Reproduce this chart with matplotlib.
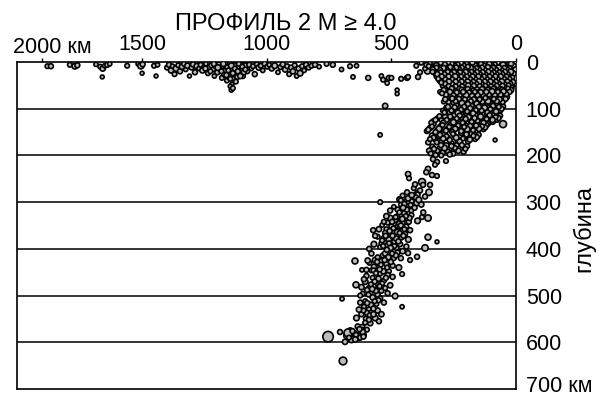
import numpy as np
import matplotlib.pyplot as plt
from matplotlib.transforms import ScaledTranslation

plt.rcParams['font.family'] = ['Liberation Sans', 'DejaVu Sans']

# (distance along profile km, depth km, magnitude)
band = [
    (1880, 9, 4.3), (1866, 9, 4.4), (1790, 6, 4.3), (1770, 9, 4.6), (1760, 7, 4.4),
    (1685, 5, 4.2), (1668, 10, 4.3), (1658, 14, 4.5), (1650, 8, 4.2), (1660, 32, 4.1),
    (1640, 6, 4.4), (1630, 4, 4.2), (1560, 8, 4.3), (1516, 4, 4.2), (1505, 8, 4.8),
    (1498, 5, 4.4), (1500, 24, 4.1), (1452, 8, 4.3), (1438, 6, 4.2), (1444, 30, 4.1),
    (1400, 12, 4.3), (1392, 6, 4.4), (1384, 18, 4.5), (1378, 9, 4.2), (1370, 26, 4.3),
    (1364, 14, 4.6), (1355, 7, 4.3), (1348, 20, 4.4), (1340, 10, 4.5), (1332, 4, 4.3),
    (1325, 16, 4.2), (1318, 8, 4.5), (1310, 30, 4.1), (1302, 12, 4.3), (1296, 5, 4.4),
    (1288, 22, 4.4), (1280, 9, 4.6), (1272, 14, 4.2), (1265, 6, 4.3), (1258, 18, 4.5),
    (1250, 10, 4.3), (1244, 4, 4.2), (1236, 24, 4.3), (1230, 12, 4.6), (1222, 7, 4.4),
    (1215, 16, 4.3), (1210, 30, 4.2), (1204, 9, 4.5), (1198, 22, 4.4), (1192, 5, 4.3),
    (1186, 14, 4.7), (1180, 34, 4.3), (1176, 8, 4.4), (1170, 26, 4.5), (1165, 18, 4.3),
    (1160, 40, 4.2), (1158, 11, 4.4), (1152, 30, 4.6), (1148, 4, 4.3), (1144, 22, 4.4),
    (1140, 48, 4.2), (1138, 14, 4.5), (1134, 36, 4.3), (1130, 7, 4.4), (1126, 26, 4.3),
    (1122, 17, 4.6), (1118, 32, 4.4), (1114, 10, 4.3), (1110, 24, 4.2), (1105, 5, 4.5),
    (1100, 18, 4.3), (1096, 30, 4.4), (1090, 12, 4.3), (1084, 8, 4.6), (1078, 20, 4.3),
    (1070, 6, 4.4), (1062, 14, 4.2), (1055, 9, 4.3), (1048, 26, 4.4), (1040, 5, 4.3),
    (1032, 12, 4.5), (1024, 8, 4.3), (1016, 18, 4.2), (1008, 4, 4.4), (998, 10, 4.3),
    (990, 6, 4.2), (980, 14, 4.4), (968, 8, 4.6), (955, 22, 4.2), (945, 11, 4.3),
    (936, 5, 4.4), (926, 16, 4.5), (918, 9, 4.3), (910, 26, 4.3), (902, 12, 4.4),
    (895, 20, 4.5), (888, 7, 4.3), (880, 30, 4.2), (872, 14, 4.4), (866, 24, 4.6),
    (858, 9, 4.3), (850, 18, 4.2), (842, 6, 4.4), (832, 12, 4.3), (820, 8, 4.3),
    (806, 6, 4.4), (790, 10, 4.2), (760, 4, 4.3), (735, 6, 4.4), (700, 16, 4.2),
    (666, 9, 4.3), (654, 32, 4.2), (640, 8, 4.2), (593, 34, 4.4), (540, 30, 4.2),
    (533, 38, 4.3), (525, 94, 4.5), (517, 45, 4.2), (545, 156, 4.2), (510, 34, 4.4),
    (500, 34, 4.3), (477, 60, 4.1), (477, 68, 4.1), (461, 36, 4.3), (437, 34, 4.4),
    (433, 32, 4.3), (393, 32, 4.4), (385, 22, 4.3), (355, 19, 4.8),
    (1246, 14, 4.4), (1226, 20, 4.3), (1212, 4, 4.4), (1196, 12, 4.6), (1182, 20, 4.3),
    (1174, 4, 4.5), (1162, 28, 4.4), (1154, 18, 4.3), (1146, 36, 4.3), (1142, 8, 4.6),
    (1136, 24, 4.4), (1128, 14, 4.3), (1124, 42, 4.3), (1116, 20, 4.4), (1112, 4, 4.3),
    (1106, 30, 4.5), (1098, 10, 4.3), (1092, 22, 4.4), (1086, 16, 4.3), (1146, 52, 4.2),
    (1142, 60, 4.2), (1136, 56, 4.3),
]

wedge_top = [
    (4, 3, 4.6), (14, 6, 4.3), (26, 2, 4.4), (35, 7, 4.8), (47, 4, 4.3), (58, 2, 4.5),
    (67, 6, 4.4), (79, 3, 4.3), (90, 8, 4.6), (101, 2, 4.3), (113, 5, 4.4), (124, 3, 4.2),
    (136, 7, 4.5), (147, 2, 4.3), (158, 5, 4.4), (170, 3, 4.6), (181, 8, 4.3), (193, 2, 4.4),
    (204, 6, 4.3), (216, 3, 4.5), (228, 7, 4.2), (240, 4, 4.4), (252, 2, 4.3), (266, 6, 4.5),
    (279, 3, 4.3), (294, 8, 4.4), (310, 5, 4.2), (330, 4, 4.3),
    (8, 12, 4.4), (19, 10, 4.7), (31, 15, 4.3), (42, 11, 4.5), (53, 14, 4.4), (64, 9, 4.3),
    (75, 13, 4.6), (86, 16, 4.3), (97, 10, 4.4), (108, 14, 4.5), (119, 12, 4.3), (131, 9, 4.4),
    (142, 15, 4.3), (153, 11, 4.6), (165, 14, 4.4), (176, 10, 4.3), (188, 16, 4.5), (199, 12, 4.3),
    (211, 9, 4.4), (222, 15, 4.3), (234, 11, 4.6), (246, 14, 4.4), (258, 10, 4.3), (271, 13, 4.5),
    (284, 16, 4.3), (298, 11, 4.4), (313, 14, 4.3), (326, 10, 4.5), (341, 12, 4.3), (365, 14, 4.2),
    (3, 20, 4.5), (15, 23, 4.3), (27, 18, 4.4), (38, 24, 4.6), (50, 21, 4.3), (61, 19, 4.4),
    (72, 25, 4.3), (83, 20, 4.5), (94, 23, 4.4), (105, 18, 4.3), (117, 24, 4.6), (128, 21, 4.4),
    (139, 19, 4.3), (151, 25, 4.5), (162, 20, 4.3), (173, 23, 4.4), (185, 18, 4.3), (196, 24, 4.6),
    (208, 21, 4.4), (219, 19, 4.3), (231, 25, 4.4), (243, 20, 4.5), (255, 23, 4.3), (268, 18, 4.4),
    (281, 24, 4.3), (295, 21, 4.5), (309, 19, 4.3), (323, 25, 4.4),
    (9, 30, 4.4), (21, 27, 4.3), (32, 33, 4.6), (44, 29, 4.4), (55, 35, 4.3), (66, 28, 4.5),
    (77, 32, 4.4), (89, 27, 4.3), (100, 34, 4.4), (111, 30, 4.6), (122, 26, 4.3), (134, 33, 4.4),
    (145, 29, 4.5), (156, 35, 4.3), (168, 28, 4.4), (179, 32, 4.3), (191, 27, 4.5), (202, 34, 4.4),
    (214, 30, 4.3), (226, 26, 4.4), (238, 33, 4.6), (250, 29, 4.3), (263, 35, 4.4), (276, 28, 4.3),
    (290, 32, 4.5), (304, 27, 4.3), (318, 31, 4.4),
    (6, 40, 4.3), (18, 37, 4.5), (29, 43, 4.4), (40, 39, 4.3), (52, 45, 4.4), (63, 38, 4.6),
    (74, 42, 4.3), (86, 37, 4.4), (97, 44, 4.5), (108, 40, 4.3), (120, 36, 4.4), (131, 43, 4.3),
    (142, 39, 4.6), (154, 45, 4.4), (165, 38, 4.3), (177, 42, 4.4), (188, 37, 4.5), (200, 44, 4.3),
    (212, 40, 4.4), (224, 36, 4.3), (236, 43, 4.5), (249, 39, 4.4), (262, 45, 4.3), (276, 38, 4.4),
    (291, 42, 4.3), (306, 40, 4.4),
    (12, 48, 4.4), (24, 52, 4.3), (36, 47, 4.5), (48, 54, 4.4), (59, 49, 4.3), (71, 55, 4.6),
    (82, 47, 4.4), (94, 53, 4.3), (105, 50, 4.4), (117, 46, 4.5), (128, 54, 4.3), (140, 49, 4.4),
    (151, 55, 4.3), (163, 47, 4.6), (174, 52, 4.4), (186, 48, 4.3), (198, 54, 4.4), (210, 50, 4.5),
    (222, 46, 4.3), (235, 53, 4.4), (248, 49, 4.3), (262, 55, 4.4), (277, 47, 4.3), (293, 51, 4.4),
]

wedge_top_fill = [
    (9, 8, 4.4), (20, 4, 4.5), (41, 9, 4.3), (52, 6, 4.6), (73, 1, 4.4), (85, 5, 4.3),
    (96, 9, 4.5), (107, 4, 4.4), (130, 8, 4.6), (141, 4, 4.3), (164, 7, 4.4), (175, 1, 4.5),
    (198, 4, 4.3), (210, 8, 4.4), (222, 1, 4.6), (234, 5, 4.3), (246, 8, 4.4), (259, 4, 4.5),
    (272, 1, 4.3), (286, 5, 4.4), (302, 2, 4.3), (320, 7, 4.4), (345, 3, 4.2), (360, 6, 4.3),
    (380, 2, 4.2), (400, 8, 4.3),
    (2, 16, 4.4), (25, 13, 4.3), (36, 17, 4.6), (47, 13, 4.4), (58, 17, 4.3), (69, 12, 4.5),
    (80, 17, 4.4), (91, 12, 4.3), (102, 17, 4.6), (113, 11, 4.4), (125, 17, 4.3), (136, 12, 4.4),
    (148, 17, 4.5), (159, 13, 4.3), (170, 17, 4.4), (182, 13, 4.6), (193, 10, 4.3), (205, 17, 4.4),
    (217, 12, 4.3), (228, 17, 4.5), (240, 12, 4.4), (252, 17, 4.3), (264, 11, 4.4), (277, 17, 4.3),
    (291, 13, 4.5), (305, 17, 4.4), (319, 12, 4.3), (334, 16, 4.4), (350, 9, 4.3),
    (9, 25, 4.4), (21, 21, 4.6), (33, 26, 4.3), (44, 21, 4.4), (56, 26, 4.5), (67, 22, 4.3),
    (78, 26, 4.4), (89, 22, 4.3), (100, 26, 4.6), (111, 21, 4.4), (123, 26, 4.3), (134, 22, 4.4),
    (145, 26, 4.3), (157, 22, 4.5), (168, 26, 4.4), (179, 21, 4.3), (190, 26, 4.4), (202, 22, 4.6),
    (213, 26, 4.3), (225, 22, 4.4), (237, 26, 4.3), (249, 22, 4.5), (261, 26, 4.4), (274, 21, 4.3),
    (288, 26, 4.4), (302, 22, 4.3), (316, 26, 4.4), (335, 21, 4.3),
    (3, 35, 4.5), (15, 33, 4.3), (27, 36, 4.4), (38, 31, 4.3), (49, 37, 4.6), (61, 31, 4.4),
    (72, 37, 4.3), (83, 31, 4.4), (95, 37, 4.5), (106, 31, 4.3), (117, 37, 4.4), (128, 31, 4.3),
    (140, 37, 4.6), (151, 31, 4.4), (162, 37, 4.3), (174, 31, 4.4), (185, 37, 4.5), (197, 31, 4.3),
    (208, 37, 4.4), (220, 31, 4.3), (232, 37, 4.4), (244, 31, 4.6), (256, 37, 4.3), (270, 31, 4.4),
    (284, 37, 4.3), (298, 31, 4.4), (312, 36, 4.3),
    (1, 46, 4.4), (12, 43, 4.5), (23, 46, 4.3), (35, 42, 4.4), (46, 47, 4.3), (57, 42, 4.6),
    (68, 47, 4.4), (80, 42, 4.3), (91, 47, 4.4), (103, 42, 4.5), (114, 47, 4.3), (125, 42, 4.4),
    (137, 47, 4.3), (148, 42, 4.6), (159, 47, 4.4), (171, 42, 4.3), (182, 47, 4.4), (194, 42, 4.5),
    (206, 47, 4.3), (218, 42, 4.4), (230, 47, 4.3), (242, 42, 4.4), (256, 47, 4.3), (269, 42, 4.5),
    (284, 47, 4.4), (300, 44, 4.3),
    (18, 55, 4.4), (30, 50, 4.3), (42, 56, 4.5), (54, 51, 4.4), (65, 57, 4.3), (77, 51, 4.4),
    (88, 57, 4.6), (100, 52, 4.3), (111, 57, 4.4), (123, 51, 4.3), (134, 57, 4.5), (146, 52, 4.4),
    (157, 58, 4.3), (169, 51, 4.4), (180, 57, 4.3), (192, 51, 4.6), (204, 57, 4.4), (216, 52, 4.3),
    (229, 57, 4.4), (242, 52, 4.3), (255, 58, 4.5), (270, 52, 4.4), (285, 57, 4.3),
]

wedge_mid = [
    (20, 60, 4.5), (32, 57, 4.3), (44, 65, 4.4), (56, 59, 4.3), (67, 68, 4.6), (79, 62, 4.4),
    (90, 57, 4.3), (102, 66, 4.4), (113, 60, 4.5), (125, 69, 4.3), (136, 58, 4.4), (148, 64, 4.3),
    (159, 70, 4.6), (171, 61, 4.4), (182, 67, 4.3), (194, 58, 4.4), (206, 65, 4.3), (218, 60, 4.5),
    (231, 68, 4.4), (244, 62, 4.3), (258, 57, 4.4), (273, 66, 4.3), (290, 60, 4.4), (305, 64, 4.2),
    (36, 75, 4.4), (48, 82, 4.3), (60, 74, 4.5), (71, 88, 4.4), (83, 78, 4.3), (95, 85, 4.4),
    (106, 72, 4.6), (118, 80, 4.3), (129, 89, 4.4), (141, 76, 4.3), (152, 84, 4.5), (164, 73, 4.4),
    (175, 87, 4.3), (187, 79, 4.4), (199, 86, 4.3), (211, 74, 4.6), (223, 82, 4.4), (236, 77, 4.3),
    (249, 88, 4.4), (263, 80, 4.3), (278, 75, 4.4), (290, 85, 4.2),
    (52, 95, 4.4), (63, 104, 4.3), (75, 92, 4.5), (86, 100, 4.4), (98, 108, 4.3), (109, 96, 4.4),
    (121, 103, 4.6), (132, 93, 4.3), (144, 110, 4.4), (155, 99, 4.3), (167, 106, 4.5), (178, 94, 4.4),
    (190, 102, 4.3), (202, 109, 4.4), (214, 97, 4.3), (226, 105, 4.6), (239, 93, 4.4), (252, 101, 4.3),
    (266, 108, 4.4), (280, 98, 4.3), (294, 104, 4.2),
    (64, 115, 4.4), (76, 124, 4.3), (88, 113, 4.5), (100, 128, 4.4), (112, 118, 4.3), (124, 126, 4.4),
    (136, 112, 4.6), (148, 121, 4.3), (160, 129, 4.4), (172, 116, 4.3), (184, 124, 4.5), (196, 113, 4.4),
    (208, 127, 4.3), (220, 119, 4.4), (232, 125, 4.3), (245, 114, 4.6), (258, 122, 4.4), (271, 129, 4.3),
    (285, 117, 4.4), (300, 124, 4.3), (315, 120, 4.2), (332, 127, 4.4),
    (52, 133, 5.0), (93, 128, 4.4), (112, 132, 4.3), (84, 167, 4.1), (125, 128, 4.4),
    (118, 135, 4.4), (130, 144, 4.3), (142, 137, 4.5), (154, 148, 4.4), (166, 133, 4.3), (178, 141, 4.4),
    (190, 150, 4.6), (202, 136, 4.3), (214, 145, 4.4), (226, 132, 4.3), (238, 139, 4.5), (250, 147, 4.4),
    (262, 134, 4.3), (275, 143, 4.4), (288, 150, 4.3), (302, 138, 4.6), (316, 146, 4.4), (330, 133, 4.3),
    (345, 141, 4.4), (358, 148, 4.3),
    (150, 156, 4.4), (164, 165, 4.3), (178, 154, 4.5), (192, 170, 4.4), (206, 160, 4.3), (220, 152, 4.4),
    (233, 168, 4.6), (246, 158, 4.3), (259, 174, 4.4), (272, 163, 4.3), (285, 155, 4.5), (298, 171, 4.4),
    (311, 160, 4.3), (324, 166, 4.4), (338, 157, 4.3), (352, 172, 4.4),
    (196, 180, 4.3), (210, 192, 4.4), (224, 184, 4.5), (238, 178, 4.3), (252, 196, 4.4), (266, 186, 4.3),
    (280, 179, 4.6), (294, 194, 4.4), (308, 185, 4.3), (322, 199, 4.4), (336, 181, 4.3), (348, 190, 4.5),
]

wedge_mid_fill = [
    (26, 64, 4.4), (38, 69, 4.3), (50, 63, 4.5), (62, 70, 4.4), (73, 64, 4.3), (85, 71, 4.4),
    (96, 63, 4.6), (108, 70, 4.3), (119, 64, 4.4), (131, 72, 4.3), (142, 65, 4.5), (154, 71, 4.4),
    (165, 64, 4.3), (177, 72, 4.4), (188, 65, 4.3), (200, 71, 4.6), (212, 64, 4.4), (225, 72, 4.3),
    (238, 65, 4.4), (251, 71, 4.3), (265, 64, 4.5), (281, 70, 4.4), (297, 67, 4.3),
    (42, 79, 4.4), (54, 86, 4.3), (66, 80, 4.5), (77, 84, 4.4), (89, 79, 4.3), (100, 90, 4.4),
    (112, 84, 4.6), (123, 77, 4.3), (135, 85, 4.4), (146, 80, 4.3), (158, 89, 4.5), (169, 80, 4.4),
    (181, 84, 4.3), (193, 90, 4.4), (205, 80, 4.3), (217, 88, 4.6), (229, 79, 4.4), (242, 84, 4.3),
    (256, 78, 4.4), (270, 86, 4.3), (284, 80, 4.4),
    (58, 100, 4.4), (69, 96, 4.3), (80, 106, 4.5), (92, 94, 4.4), (103, 101, 4.3), (115, 108, 4.4),
    (126, 98, 4.6), (138, 104, 4.3), (149, 96, 4.4), (161, 103, 4.3), (172, 110, 4.5), (184, 99, 4.4),
    (196, 106, 4.3), (208, 96, 4.4), (220, 102, 4.3), (233, 109, 4.6), (246, 97, 4.4), (259, 104, 4.3),
    (273, 96, 4.4), (287, 108, 4.3),
    (70, 120, 4.4), (82, 118, 4.3), (94, 124, 4.5), (106, 114, 4.4), (118, 122, 4.3), (130, 130, 4.4),
    (142, 117, 4.6), (154, 126, 4.3), (166, 120, 4.4), (178, 128, 4.3), (190, 118, 4.5), (202, 122, 4.4),
    (214, 130, 4.3), (226, 115, 4.4), (238, 121, 4.3), (251, 129, 4.6), (264, 117, 4.4), (278, 124, 4.3),
    (292, 130, 4.4), (307, 116, 4.3), (323, 124, 4.4), (340, 130, 4.3),
    (124, 140, 4.4), (136, 138, 4.3), (148, 143, 4.5), (160, 136, 4.4), (172, 146, 4.3), (184, 137, 4.4),
    (196, 144, 4.6), (208, 139, 4.3), (220, 148, 4.4), (232, 136, 4.3), (244, 143, 4.5), (256, 150, 4.4),
    (268, 139, 4.3), (281, 147, 4.4), (295, 135, 4.3), (309, 143, 4.6), (323, 150, 4.4), (337, 138, 4.3),
    (352, 145, 4.4),
    (157, 161, 4.4), (171, 158, 4.3), (185, 166, 4.5), (199, 155, 4.4), (213, 164, 4.3), (226, 170, 4.4),
    (240, 162, 4.6), (253, 154, 4.3), (266, 167, 4.4), (279, 159, 4.3), (292, 164, 4.5), (305, 156, 4.4),
    (318, 172, 4.3), (331, 162, 4.4), (345, 165, 4.3),
    (203, 186, 4.3), (217, 178, 4.4), (231, 190, 4.5), (245, 184, 4.3), (259, 180, 4.4), (273, 192, 4.3),
    (287, 184, 4.6), (301, 178, 4.4), (315, 190, 4.3), (329, 186, 4.4), (342, 196, 4.3), (266, 198, 4.4),
    (300, 200, 4.3),
]

slab = [
    (317, 214, 4.4), (281, 212, 4.3), (353, 229, 4.5), (337, 242, 4.4), (317, 244, 4.3),
    (377, 257, 5.0), (373, 263, 4.4), (345, 263, 4.4), (433, 240, 4.5), (429, 249, 4.3),
    (333, 208, 4.4), (325, 220, 4.3), (360, 236, 4.4), (397, 281, 4.4), (437, 279, 4.4),
    (349, 279, 4.8), (385, 275, 4.4), (410, 270, 4.3),
    (395, 284, 4.4), (410, 292, 4.3), (425, 288, 4.5), (440, 298, 4.4), (455, 286, 4.3),
    (468, 294, 4.4), (400, 302, 4.6), (415, 308, 4.3), (430, 300, 4.4), (445, 312, 4.3),
    (460, 305, 4.5), (475, 316, 4.4), (420, 318, 4.3), (450, 320, 4.4), (545, 300, 4.3),
    (490, 310, 4.2),
    (420, 328, 4.4), (435, 336, 4.3), (448, 324, 4.5), (462, 340, 4.4), (476, 330, 4.3),
    (490, 346, 4.4), (505, 334, 4.6), (440, 352, 4.3), (455, 344, 4.4), (470, 356, 4.3),
    (485, 338, 4.5), (500, 352, 4.4), (515, 344, 4.3), (430, 342, 4.4), (377, 332, 4.3),
    (353, 334, 4.8), (573, 360, 4.4), (520, 358, 4.3), (537, 349, 4.2),
    (445, 368, 4.4), (460, 376, 4.3), (474, 362, 4.5), (488, 384, 4.4), (502, 370, 4.3),
    (516, 392, 4.4), (530, 378, 4.6), (545, 396, 4.3), (480, 398, 4.4), (495, 364, 4.3),
    (510, 380, 4.5), (525, 366, 4.4), (540, 388, 4.3), (465, 390, 4.4), (555, 374, 4.3),
    (353, 375, 4.7), (317, 385, 4.1), (365, 398, 4.8), (589, 400, 4.4),
    (475, 408, 4.4), (490, 420, 4.3), (505, 404, 4.5), (520, 432, 4.4), (535, 414, 4.3),
    (550, 440, 4.4), (565, 424, 4.6), (580, 446, 4.3), (495, 436, 4.4), (510, 448, 4.3),
    (525, 410, 4.5), (540, 426, 4.4), (555, 418, 4.3), (570, 438, 4.4), (588, 430, 4.3),
    (397, 417, 4.4), (646, 426, 4.7), (425, 424, 4.3), (433, 409, 4.4),
    (515, 456, 4.4), (530, 468, 4.3), (545, 452, 4.5), (560, 476, 4.4), (575, 462, 4.3),
    (590, 484, 4.4), (605, 470, 4.6), (540, 490, 4.3), (555, 498, 4.4), (570, 480, 4.3),
    (585, 494, 4.5), (600, 458, 4.4), (525, 484, 4.3), (618, 445, 4.2), (642, 477, 4.7),
    (457, 454, 4.3), (485, 501, 4.6), (615, 496, 4.3),
    (545, 506, 4.4), (560, 518, 4.3), (575, 504, 4.5), (590, 530, 4.4), (605, 512, 4.3),
    (620, 540, 4.4), (565, 548, 4.6), (580, 536, 4.3), (595, 546, 4.4), (610, 524, 4.3),
    (555, 532, 4.5), (698, 507, 4.2), (457, 524, 4.2), (598, 537, 4.4),
    (585, 559, 4.5), (617, 567, 4.4), (598, 573, 4.3), (620, 574, 4.6), (635, 566, 4.4),
    (650, 580, 4.5), (665, 574, 4.3), (680, 586, 4.6), (686, 599, 4.5), (610, 584, 4.3),
    (634, 588, 5.2), (674, 580, 5.3), (706, 578, 4.4), (660, 594, 4.8), (625, 590, 4.4),
    (754, 588, 6.0), (694, 640, 5.2),
]

slab_fill = [
    (402, 290, 4.4), (418, 298, 4.3), (433, 292, 4.5), (448, 304, 4.4), (462, 296, 4.3),
    (407, 312, 4.4), (423, 306, 4.3), (438, 316, 4.4), (453, 312, 4.5), (468, 322, 4.3),
    (427, 334, 4.4), (442, 330, 4.3), (456, 336, 4.5), (469, 346, 4.4), (483, 332, 4.3),
    (497, 342, 4.4), (448, 358, 4.3), (462, 350, 4.4), (477, 364, 4.5), (492, 356, 4.3),
    (507, 362, 4.4),
    (452, 372, 4.4), (467, 366, 4.3), (481, 378, 4.5), (495, 372, 4.4), (509, 388, 4.3),
    (523, 372, 4.4), (537, 382, 4.3), (472, 384, 4.4), (488, 394, 4.3), (503, 398, 4.5),
    (518, 402, 4.4), (533, 394, 4.3),
    (482, 414, 4.4), (497, 410, 4.3), (512, 418, 4.5), (527, 424, 4.4), (542, 434, 4.3),
    (557, 428, 4.4), (572, 446, 4.3), (502, 428, 4.4), (517, 440, 4.3), (532, 448, 4.5),
    (547, 444, 4.4), (562, 452, 4.3),
    (522, 462, 4.4), (537, 474, 4.3), (552, 464, 4.5), (567, 470, 4.4), (582, 476, 4.3),
    (597, 488, 4.4), (547, 480, 4.3), (562, 490, 4.4), (577, 486, 4.5), (592, 498, 4.3),
    (552, 510, 4.4), (567, 512, 4.3), (582, 520, 4.5), (597, 516, 4.4), (612, 532, 4.3),
    (572, 528, 4.4), (587, 542, 4.3), (602, 550, 4.4), (572, 540, 4.5),
    (590, 552, 4.4), (605, 558, 4.3), (615, 578, 4.5), (628, 572, 4.4), (642, 584, 4.3),
    (656, 576, 4.4), (670, 590, 4.3), (645, 594, 4.5), (612, 588, 4.4),
]

slab_edges = [
    (380, 305, 4.5), (372, 322, 4.4), (395, 340, 4.6), (505, 318, 4.4), (520, 330, 4.5),
    (530, 342, 4.3), (425, 360, 4.4), (432, 380, 4.6), (440, 395, 4.4), (550, 358, 4.5),
    (565, 372, 4.4), (570, 390, 4.6), (455, 405, 4.5), (462, 420, 4.4), (470, 440, 4.6),
    (580, 410, 4.4), (595, 425, 4.5), (600, 445, 4.4), (495, 460, 4.4), (505, 478, 4.5),
    (515, 495, 4.4), (610, 465, 4.4), (620, 482, 4.5), (625, 500, 4.3), (530, 515, 4.4),
    (540, 540, 4.5), (625, 515, 4.4), (630, 530, 4.5), (640, 548, 4.6), (550, 555, 4.4),
    (405, 262, 4.4), (418, 285, 4.5), (390, 295, 4.6), (365, 288, 4.4),
]

depth_ticks = [0, 100, 200, 300, 400, 500, 600, 700]
depth_labels = ['0', '100', '200', '300', '400', '500', '600', '700 км']
dist_ticks = [1900, 1500, 1000, 500, 0]
dist_labels = ['', '1500', '1000', '500', '0']

pts = np.array(band + wedge_top + wedge_top_fill + wedge_mid + wedge_mid_fill
               + slab + slab_fill + slab_edges, dtype=float)
dist, depth, mag = pts[:, 0], pts[:, 1], pts[:, 2]
diam_px = 3.5 + (mag - 4.0) * 3.5
sizes = (diam_px * 72 / 100) ** 2

fig = plt.figure(figsize=(6.05, 3.96), dpi=100)
ax = fig.add_axes([17 / 605, 1 - 389 / 396, (516 - 17) / 605, (389 - 62) / 396])

for d in depth_ticks[1:-1]:
    ax.axhline(d, color='black', lw=1.1, zorder=1)

ax.scatter(dist, depth, s=sizes, facecolor='#bcbcbc', edgecolor='black',
           linewidths=1.2, zorder=3)

ax.set_xlim(2002, 0)
ax.set_ylim(700, 0)

fs = 15.5
ax.xaxis.tick_top()
ax.set_xticks(dist_ticks)
ax.set_xticklabels(dist_labels, fontsize=fs)
ax.tick_params(axis='x', direction='out', length=3, width=1, pad=2)
ax.text(1861, 1.012, '2000 км', transform=ax.get_xaxis_transform(),
        ha='center', va='bottom', fontsize=fs)

ax.yaxis.tick_right()
ax.set_yticks(depth_ticks)
ax.set_yticklabels(depth_labels, fontsize=fs)
ax.tick_params(axis='y', length=0, pad=7)
last = ax.get_yticklabels()[-1]
last.set_transform(last.get_transform() + ScaledTranslation(0, 5 / 100, fig.dpi_scale_trans))
ax.set_ylabel('глубина', fontsize=17)
ax.yaxis.set_label_position('right')
ax.yaxis.set_label_coords(1.112, 0.49)

for sp in ax.spines.values():
    sp.set_linewidth(1.2)

fig.text(286 / 605, 1 - 24 / 396, 'ПРОФИЛЬ 2 M ≥ 4.0', ha='center', va='center',
         fontsize=17)

fig.savefig('out.png', dpi=100)
